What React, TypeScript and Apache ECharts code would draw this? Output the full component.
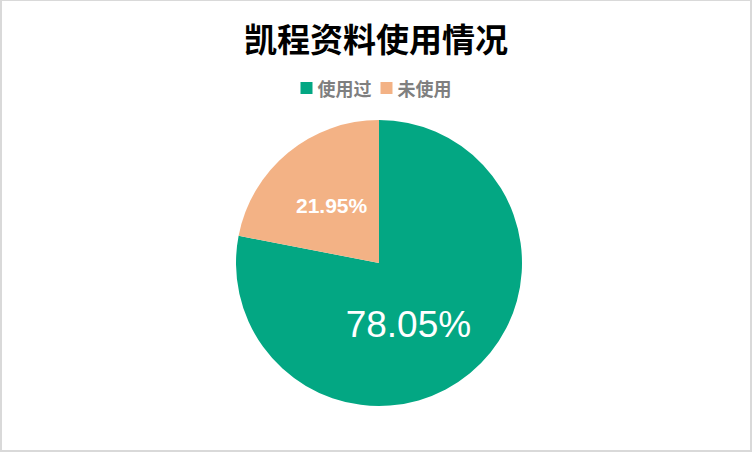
import React, { useEffect, useRef } from 'react';
import * as echarts from 'echarts';

const categories = ['使用过', '未使用'];
const values = [78.05, 21.95];
const colors = ['#03A783', '#F3B285'];

const App: React.FC = () => {
  const chartRef = useRef<HTMLDivElement>(null);

  useEffect(() => {
    document.body.style.margin = '0';
    if (!chartRef.current) return;
    const chart = echarts.init(chartRef.current, undefined, { renderer: 'svg' });

    const option = {
      animation: false,
      backgroundColor: '#ffffff',
      title: {
        text: '凯程资料使用情况',
        left: 'center',
        top: 15,
        textStyle: {
          fontFamily: 'Noto Sans CJK SC',
          fontSize: 33,
          fontWeight: 'bold',
          color: '#000000'
        }
      },
      legend: {
        data: categories,
        top: 73,
        left: 'center',
        icon: 'rect',
        itemWidth: 12,
        itemHeight: 12,
        itemGap: 9,
        textStyle: {
          fontFamily: 'Noto Sans CJK SC',
          fontSize: 18,
          fontWeight: 'bold',
          color: '#7f7f7f'
        }
      },
      series: [
        {
          type: 'pie',
          center: [377, 262],
          radius: 143,
          startAngle: 90,
          clockwise: true,
          color: colors,
          label: {
            show: true,
            position: 'inside',
            color: '#ffffff',
            fontFamily: 'Liberation Sans',
            formatter: (p: any) => p.value.toFixed(2) + '%'
          },
          labelLine: { show: false },
          emphasis: { disabled: true },
          data: categories.map((name, i) => ({
            name,
            value: values[i],
            label:
              i === 0
                ? { fontSize: 37, offset: [-18, 4] }
                : { fontSize: 21, fontWeight: 'bold' }
          }))
        }
      ]
    };

    chart.setOption(option);
    return () => {
      chart.dispose();
    };
  }, []);

  return (
    <div
      style={{
        width: 752,
        height: 452,
        boxSizing: 'border-box',
        borderStyle: 'solid',
        borderColor: '#d9d9d9',
        borderWidth: '1px 2px 2px 2px',
        background: '#fff'
      }}
    >
      <div ref={chartRef} style={{ width: '100%', height: '100%' }} />
    </div>
  );
};

export default App;
